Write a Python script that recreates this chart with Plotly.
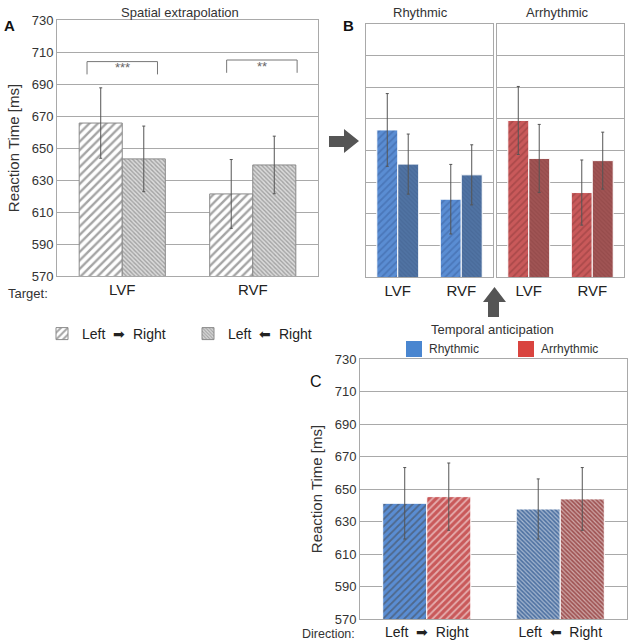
import plotly.graph_objects as go

W, H = 638, 641

# ---------------- data ----------------
targets = ["LVF", "RVF"]
# Panel A: spatial extrapolation
A_lr = [665.6, 621.3]
A_lr_err = [22.0, 21.5]
A_rl = [643.2, 639.4]
A_rl_err = [20.5, 18.0]
# Panel B: rhythmic / arrhythmic split
B_rhy_lr = [663.0, 619.2]
B_rhy_lr_err = [23.0, 22.0]
B_rhy_rl = [641.4, 634.6]
B_rhy_rl_err = [19.0, 19.0]
B_arr_lr = [669.0, 623.4]
B_arr_lr_err = [21.5, 20.6]
B_arr_rl = [645.0, 643.6]
B_arr_rl_err = [21.5, 18.0]
# Panel C: temporal anticipation
directions = ["Left\u00a0\u00a0\u27a1\u00a0\u00a0Right", "Left\u00a0\u00a0\u2b05\u00a0\u00a0Right"]
C_rhy = [641.2, 637.7]
C_rhy_err = [22.0, 18.5]
C_arr = [645.3, 643.9]
C_arr_err = [20.7, 19.3]
yticks = [570, 590, 610, 630, 650, 670, 690, 710, 730]

FONT = "Liberation Sans, Arial, sans-serif"
GRID = "#a9a9a9"
ERR = "#555555"


def px(x):
    return x / W


def py(y):
    return 1 - y / H


def err(v):
    return dict(type="data", array=v, color=ERR, thickness=1, width=1.5)


fig = go.Figure()

# ---- Panel A ----
fig.add_trace(go.Bar(x=targets, y=A_lr, error_y=err(A_lr_err), xaxis="x", yaxis="y",
                     name="Left\u00a0\u00a0\u27a1\u00a0\u00a0Right", legend="legend",
                     marker=dict(color="white", line=dict(color="#8a8a8a", width=1),
                                 pattern=dict(shape="/", fgcolor="#4a4a4a", bgcolor="white",
                                              size=6, solidity=0.4))))
fig.add_trace(go.Bar(x=targets, y=A_rl, error_y=err(A_rl_err), xaxis="x", yaxis="y",
                     name="Left\u00a0\u00a0\u2b05\u00a0\u00a0Right", legend="legend",
                     marker=dict(color="white", line=dict(color="#8a8a8a", width=1),
                                 pattern=dict(shape="\\", fgcolor="#6a6a6a", bgcolor="#dadada",
                                              size=3, solidity=0.45))))

# ---- Panel B ----
blue_hatch = dict(shape="/", fgcolor="#3b62a0", bgcolor="#5a8dd3", size=5, solidity=0.35)
blue_dense = dict(shape="\\", fgcolor="#42628f", bgcolor="#5073a3", size=3, solidity=0.4)
red_hatch = dict(shape="/", fgcolor="#8e3b3b", bgcolor="#c9595a", size=5, solidity=0.35)
red_dense = dict(shape="\\", fgcolor="#8a4242", bgcolor="#a05454", size=3, solidity=0.4)

for ax, ay, lr, lre, rl, rle, hatch, dense in [
    ("x2", "y2", B_rhy_lr, B_rhy_lr_err, B_rhy_rl, B_rhy_rl_err, blue_hatch, blue_dense),
    ("x3", "y3", B_arr_lr, B_arr_lr_err, B_arr_rl, B_arr_rl_err, red_hatch, red_dense),
]:
    fig.add_trace(go.Bar(x=targets, y=lr, error_y=err(lre), xaxis=ax, yaxis=ay, showlegend=False,
                         marker=dict(color=hatch["bgcolor"], line=dict(color="white", width=1),
                                     pattern=hatch)))
    fig.add_trace(go.Bar(x=targets, y=rl, error_y=err(rle), xaxis=ax, yaxis=ay, showlegend=False,
                         marker=dict(color=dense["bgcolor"], line=dict(color="white", width=1),
                                     pattern=dense)))


# ---- Panel C ----
def pat_arrays(p1, p2):
    return dict(shape=[p1["shape"], p2["shape"]], fgcolor=[p1["fgcolor"], p2["fgcolor"]],
                bgcolor=[p1["bgcolor"], p2["bgcolor"]], size=[p1["size"], p2["size"]],
                solidity=[p1["solidity"], p2["solidity"]])


fig.add_trace(go.Bar(x=directions, y=C_rhy, error_y=err(C_rhy_err), xaxis="x4", yaxis="y4",
                     showlegend=False,
                     marker=dict(color=[blue_hatch["bgcolor"], blue_dense["bgcolor"]],
                                 line=dict(color="white", width=1),
                                 pattern=pat_arrays(blue_hatch, blue_dense))))
fig.add_trace(go.Bar(x=directions, y=C_arr, error_y=err(C_arr_err), xaxis="x4", yaxis="y4",
                     showlegend=False,
                     marker=dict(color=[red_hatch["bgcolor"], red_dense["bgcolor"]],
                                 line=dict(color="white", width=1),
                                 pattern=pat_arrays(red_hatch, red_dense))))


# ---------------- axes ----------------
def yax(dom, labels=True, title=None, anchor="x"):
    d = dict(domain=dom, range=[570, 730], tickvals=yticks, showgrid=True, gridcolor=GRID,
             gridwidth=1, showline=True, linecolor=GRID, mirror=True, zeroline=False,
             ticks="", showticklabels=labels, tickfont=dict(size=13, color="#333333"),
             automargin=False, anchor=anchor, fixedrange=True)
    if title:
        d["title"] = dict(text=title, font=dict(size=15, color="#333333"), standoff=8)
    return d


def xax(dom, anchor, size=15):
    return dict(domain=dom, anchor=anchor, showline=True, linecolor=GRID, mirror=True,
                ticks="", tickfont=dict(size=size, color="#222222"), automargin=False,
                showgrid=False, fixedrange=True)


fig.update_layout(
    width=W, height=H,
    margin=dict(l=0, r=0, t=0, b=0, autoexpand=False),
    paper_bgcolor="white", plot_bgcolor="white",
    font=dict(family=FONT, color="#222222"),
    barmode="group", bargap=0.34, bargroupgap=0,
    xaxis=xax([px(57), px(318)], "y"),
    yaxis=yax([py(276), py(20)], True, "Reaction Time [ms]", "x"),
    xaxis2=xax([px(366), px(493)], "y2"),
    yaxis2=yax([py(277), py(24)], False, None, "x2"),
    xaxis3=xax([px(497), px(624)], "y3"),
    yaxis3=yax([py(277), py(24)], False, None, "x3"),
    xaxis4=xax([px(360), px(627)], "y4", size=14),
    yaxis4=yax([py(619), py(359)], True, "Reaction Time [ms]", "x4"),
    legend=dict(orientation="h", x=px(42), y=py(318), xanchor="left", yanchor="top",
                font=dict(size=14, color="#222222"), entrywidth=101, entrywidthmode="pixels",
                bgcolor="rgba(0,0,0,0)"),
)


# ---------------- annotations ----------------
def ann(text, x, y, size=13, xanchor="center", color="#333333", bold=False):
    if bold:
        text = "<b>" + text + "</b>"
    fig.add_annotation(text=text, x=px(x), y=py(y), xref="paper", yref="paper",
                       showarrow=False, xanchor=xanchor, yanchor="middle",
                       font=dict(size=size, color=color, family=FONT))


ann("Spatial extrapolation", 180, 12, 13)
ann("Rhythmic", 420, 13, 13)
ann("Arrhythmic", 557, 13, 13)
ann("A", 9, 25, 15, bold=True, color="#111111")
ann("B", 348, 26, 15, bold=True, color="#111111")
ann("C", 316, 381, 16, color="#111111")
ann("Target:", 50, 293, 13, xanchor="right")
ann("Direction:", 357, 634, 12.5, xanchor="right")
ann("Temporal anticipation", 492, 329, 13)

# temporal anticipation key (solid swatches)
for x0, col, label in [(406, "#4a86d0", "Rhythmic"), (518, "#d9443f", "Arrhythmic")]:
    fig.add_shape(type="rect", xref="paper", yref="paper", x0=px(x0), x1=px(x0 + 16),
                  y0=py(357), y1=py(341), fillcolor=col, line=dict(width=0))
    ann(label, x0 + 21, 349, 12, xanchor="left")

# significance brackets (panel A)
for x0, x1, ytop, ylow, txt, ty in [(-0.27, 0.27, 704, 696, "***", 700),
                                    (0.80, 1.34, 705, 697, "**", 701)]:
    for (a, b, c, d) in [(x0, ytop, x1, ytop), (x0, ytop, x0, ylow), (x1, ytop, x1, ylow)]:
        fig.add_shape(type="line", xref="x", yref="y", x0=a, y0=b, x1=c, y1=d,
                      line=dict(color="#777777", width=1))
    fig.add_annotation(text=txt, x=(x0 + x1) / 2, y=ty, xref="x", yref="y", showarrow=False,
                       font=dict(size=13, color="#666666"))


# big gray arrows
def path(pts):
    return "M " + " L ".join(f"{px(a):.5f},{py(b):.5f}" for a, b in pts) + " Z"


fig.add_shape(type="path", xref="paper", yref="paper",
              path=path([(329, 136), (344, 136), (344, 129), (359, 141), (344, 153),
                         (344, 147), (329, 147)]),
              fillcolor="#555555", line=dict(width=0))
fig.add_shape(type="path", xref="paper", yref="paper",
              path=path([(488, 317), (488, 302), (483, 302), (494.5, 287), (506, 302),
                         (499, 302), (499, 317)]),
              fillcolor="#555555", line=dict(width=0))

fig.write_html("out.html")
